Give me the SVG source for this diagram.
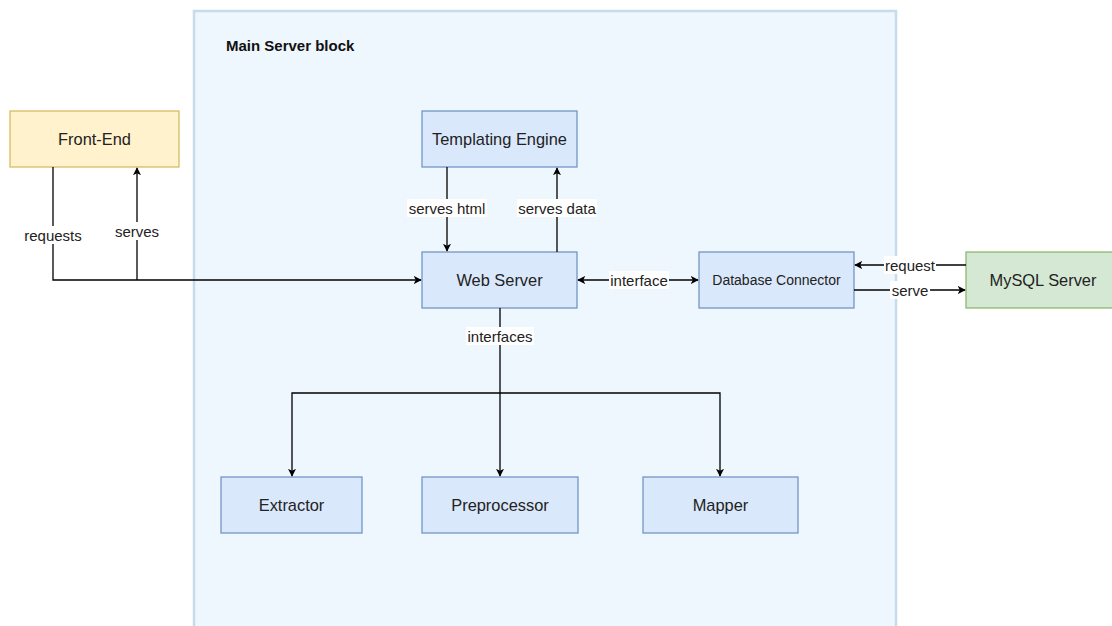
<svg xmlns="http://www.w3.org/2000/svg" width="1112" height="626" viewBox="0 0 1112 626">
<defs>
<style>
.node rect{stroke-width:1.2}
.blue{fill:#dae8fc;stroke:#6c8ebf}
.t{font-family:"Liberation Sans",Arial,sans-serif;font-size:16.4px;fill:#222;text-anchor:middle;dominant-baseline:central}
.t.small{font-size:14px}
.lbl{font-family:"Liberation Sans",Arial,sans-serif;font-size:15px;fill:#222;text-anchor:middle;dominant-baseline:central}
.bg{fill:#ffffff}
.edge{fill:none;stroke:#000;stroke-width:1.3}
</style>
<marker id="ah" viewBox="0 0 10 10" refX="9" refY="5" markerWidth="8" markerHeight="8" orient="auto-start-reverse" markerUnits="userSpaceOnUse">
<path d="M0,0 L10,5 L0,10 L2.5,5 Z" fill="#000"/>
</marker>
</defs>
<rect width="1112" height="626" fill="#ffffff"/>
<g id="main-block">
<rect x="194" y="11" width="702" height="640" fill="#eef6fe" stroke="#c6dcec" stroke-width="2.5"/>
<text x="226" y="45" font-family="Liberation Sans,Arial,sans-serif" font-size="15" font-weight="bold" fill="#111" dominant-baseline="central">Main Server block</text>
</g>
<g id="front-end" class="node">
<rect x="10" y="111" width="169" height="56" fill="#fff2cc" stroke="#d6b656"/>
<text class="t" x="94.5" y="139">Front-End</text>
</g>
<g id="templating-engine" class="node">
<rect class="blue" x="422" y="111" width="155" height="56"/>
<text class="t" x="499.5" y="139">Templating Engine</text>
</g>
<g id="web-server" class="node">
<rect class="blue" x="422" y="252" width="155" height="56"/>
<text class="t" x="499.5" y="280">Web Server</text>
</g>
<g id="database-connector" class="node">
<rect class="blue" x="699" y="252" width="155" height="56"/>
<text class="t small" x="776.5" y="280">Database Connector</text>
</g>
<g id="mysql-server" class="node">
<rect x="966" y="252" width="150" height="56" fill="#d5e8d4" stroke="#82b366"/>
<text class="t" x="1043" y="280">MySQL Server</text>
</g>
<g id="extractor" class="node">
<rect class="blue" x="221" y="477" width="141" height="56"/>
<text class="t" x="291.5" y="505">Extractor</text>
</g>
<g id="preprocessor" class="node">
<rect class="blue" x="422" y="477" width="156" height="56"/>
<text class="t" x="500" y="505">Preprocessor</text>
</g>
<g id="mapper" class="node">
<rect class="blue" x="643" y="477" width="155" height="56"/>
<text class="t" x="720.5" y="505">Mapper</text>
</g>
<g id="connectors">
<path class="edge" d="M53,167 V280 H421" marker-end="url(#ah)"/>
<path class="edge" d="M137,280 V168" marker-end="url(#ah)"/>
<path class="edge" d="M447,167 V251" marker-end="url(#ah)"/>
<path class="edge" d="M557,252 V168" marker-end="url(#ah)"/>
<path class="edge" d="M578,280 H698" marker-start="url(#ah)" marker-end="url(#ah)"/>
<path class="edge" d="M966,265 H855" marker-end="url(#ah)"/>
<path class="edge" d="M854,290 H965" marker-end="url(#ah)"/>
<path class="edge" d="M500,308 V476" marker-end="url(#ah)"/>
<path class="edge" d="M292,476 V393 H720 V476" marker-start="url(#ah)" marker-end="url(#ah)"/>
<rect class="bg" x="23" y="226" width="60" height="18"/>
<text class="lbl" x="53" y="235">requests</text>
<rect class="bg" x="114" y="222" width="46" height="18"/>
<text class="lbl" x="137" y="231">serves</text>
<rect class="bg" x="407" y="199" width="80" height="18"/>
<text class="lbl" x="447" y="208">serves html</text>
<rect class="bg" x="517" y="199" width="80" height="18"/>
<text class="lbl" x="557" y="208">serves data</text>
<rect class="bg" x="609" y="271" width="60" height="18"/>
<text class="lbl" x="639" y="280">interface</text>
<rect class="bg" x="884" y="256" width="52" height="18"/>
<text class="lbl" x="910" y="265">request</text>
<rect class="bg" x="890" y="281" width="40" height="18"/>
<text class="lbl" x="910" y="290">serve</text>
<rect class="bg" x="466" y="327" width="68" height="18"/>
<text class="lbl" x="500" y="336">interfaces</text>
</g>
</svg>
